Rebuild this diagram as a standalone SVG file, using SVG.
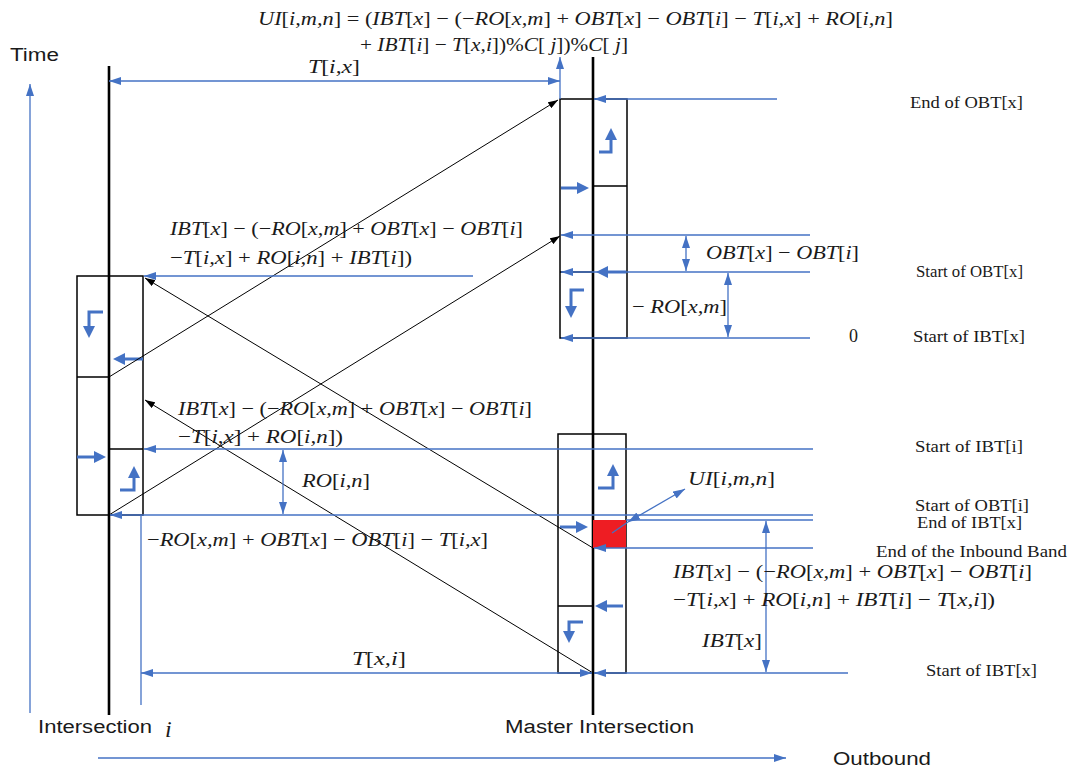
<svg xmlns="http://www.w3.org/2000/svg" width="1069" height="769" viewBox="0 0 1069 769">
<defs>
<style>
.bl{stroke:#4472C4;stroke-width:1.3;fill:none}
.bt{stroke:#4472C4;stroke-width:3;fill:none;stroke-linejoin:miter}
.k{stroke:#000;stroke-width:1;fill:none}
.ax{stroke:#000;stroke-width:2.6;fill:none}
.bx{stroke:#000;stroke-width:1.5;fill:none}
.m{font-family:"Liberation Serif",serif;font-style:italic;font-size:19px;fill:#1a1a1a}
.r{font-style:normal}
.t{font-family:"Liberation Serif",serif;font-size:16px;fill:#1a1a1a}
.a{font-family:"Liberation Sans",Arial,sans-serif;font-size:18px;fill:#1a1a1a}
</style>
<marker id="ab" viewBox="0 0 12 8" refX="12" refY="4" markerWidth="12" markerHeight="8" markerUnits="userSpaceOnUse" orient="auto-start-reverse"><path d="M0,0 L12,4 L0,8 z" fill="#4472C4"/></marker>
<marker id="abt" viewBox="0 0 12 12" refX="3" refY="6" markerWidth="12" markerHeight="12" markerUnits="userSpaceOnUse" orient="auto"><path d="M0,0 L12,6 L0,12 z" fill="#4472C4"/></marker>
<marker id="ak" viewBox="0 0 10 7" refX="10" refY="3.5" markerWidth="10" markerHeight="7" markerUnits="userSpaceOnUse" orient="auto"><path d="M0,0 L10,3.5 L0,7 z" fill="#000"/></marker>
</defs>
<rect width="1069" height="769" fill="#fff"/>

<g id="axes">
<path class="bl" d="M30,713 V84" marker-end="url(#ab)"/>
<path class="bl" d="M98,758 H786" marker-end="url(#ab)"/>
<text class="a" x="10" y="61" textLength="49" lengthAdjust="spacingAndGlyphs">Time</text>
<text class="a" x="833" y="765" textLength="98" lengthAdjust="spacingAndGlyphs">Outbound</text>
</g>

<g id="intersection-i">
<path class="ax" d="M109,66 V715"/>
<rect class="bx" x="77" y="276" width="66" height="239"/>
<path class="bx" d="M77,377 H109 M109,449 H143"/>
<path class="bt" d="M103,312 H89 V329" marker-end="url(#abt)"/>
<path class="bt" d="M120,490 H134 V475" marker-end="url(#abt)"/>
<path class="bt" d="M143,359 H122" marker-end="url(#abt)"/>
<path class="bt" d="M77,457 H97" marker-end="url(#abt)"/>
<text class="a" x="38" y="733" textLength="114" lengthAdjust="spacingAndGlyphs">Intersection</text>
<text class="m" x="165" y="737" style="font-size:24px">i</text>
</g>

<g id="master-intersection">
<path class="ax" d="M593,57 V715"/>
<rect class="bx" x="560" y="99" width="67" height="239"/>
<path class="bx" d="M593,186 H627 M560,272 H593"/>
<rect class="bx" x="558" y="434" width="68" height="239"/>
<path class="bx" d="M558,606 H593"/>
<rect x="593" y="520" width="33" height="28" fill="#EE1D23"/>
<path class="bt" d="M599,152 H611 V137" marker-end="url(#abt)"/>
<path class="bt" d="M561,188 H580" marker-end="url(#abt)"/>
<path class="bt" d="M626,272 H605" marker-end="url(#abt)"/>
<path class="bt" d="M584,290 H571 V309" marker-end="url(#abt)"/>
<path class="bt" d="M598,488 H613 V473" marker-end="url(#abt)"/>
<path class="bt" d="M560,527 H579" marker-end="url(#abt)"/>
<path class="bt" d="M623,606 H604" marker-end="url(#abt)"/>
<path class="bt" d="M583,622 H569 V634" marker-end="url(#abt)"/>
<text class="a" x="505" y="733" textLength="189" lengthAdjust="spacingAndGlyphs">Master Intersection</text>
</g>

<g id="connectors">
<path class="k" d="M109,377 L558,100" marker-end="url(#ak)"/>
<path class="k" d="M109,515 L560,236" marker-end="url(#ak)"/>
<path class="k" d="M593,548 L145,278" marker-end="url(#ak)"/>
<path class="k" d="M593,673 L145,400" marker-end="url(#ak)"/>

<path class="bl" d="M109,81 H560" marker-start="url(#ab)" marker-end="url(#ab)"/>
<path class="bl" d="M560,99 V57" marker-end="url(#ab)"/>
<path class="bl" d="M777,99 H594" marker-end="url(#ab)"/>
<path class="bl" d="M810,235 H561" marker-end="url(#ab)"/>
<path class="bl" d="M810,272 H561" marker-end="url(#ab)"/>
<path class="bl" d="M810,338 H561" marker-end="url(#ab)"/>
<path class="bl" d="M473,276 H144" marker-end="url(#ab)"/>
<path class="bl" d="M813,449 H144" marker-end="url(#ab)"/>
<path class="bl" d="M813,515 H110" marker-end="url(#ab)"/>
<path class="bl" d="M626,520 H813"/>
<path class="bl" d="M813,548 H594" marker-end="url(#ab)"/>
<path class="bl" d="M848,673 H594" marker-end="url(#ab)"/>
<path class="bl" d="M141,673 H592" marker-start="url(#ab)" marker-end="url(#ab)"/>
<path class="bl" d="M141,515 V705"/>
<path class="bl" d="M283,450 V514" marker-start="url(#ab)" marker-end="url(#ab)"/>
<path class="bl" d="M686,236 V271" marker-start="url(#ab)" marker-end="url(#ab)"/>
<path class="bl" d="M728,273 V337" marker-start="url(#ab)" marker-end="url(#ab)"/>
<path class="bl" d="M766,521 V672" marker-start="url(#ab)" marker-end="url(#ab)"/>
<path class="bl" d="M612,533 L628,522"/>
<path class="bl" d="M628,522 L685,489" marker-start="url(#ab)" marker-end="url(#ab)"/>
</g>

<g id="labels">
<text class="m" x="258" y="25" textLength="635" lengthAdjust="spacingAndGlyphs">UI<tspan class="r">[</tspan>i,m,n<tspan class="r">] = (</tspan>IBT<tspan class="r">[</tspan>x<tspan class="r">] − (−</tspan>RO<tspan class="r">[</tspan>x,m<tspan class="r">] + </tspan>OBT<tspan class="r">[</tspan>x<tspan class="r">] − </tspan>OBT<tspan class="r">[</tspan>i<tspan class="r">] − </tspan>T<tspan class="r">[</tspan>i,x<tspan class="r">] + </tspan>RO<tspan class="r">[</tspan>i,n<tspan class="r">]</tspan></text>
<text class="m" x="360" y="51" textLength="268" lengthAdjust="spacingAndGlyphs"><tspan class="r">+ </tspan>IBT<tspan class="r">[</tspan>i<tspan class="r">] − </tspan>T<tspan class="r">[</tspan>x,i<tspan class="r">])%</tspan>C<tspan class="r">[ </tspan>j<tspan class="r">])%</tspan>C<tspan class="r">[ </tspan>j<tspan class="r">]</tspan></text>
<text class="m" x="308" y="73" textLength="52" lengthAdjust="spacingAndGlyphs">T<tspan class="r">[</tspan>i,x<tspan class="r">]</tspan></text>

<text class="m" x="170" y="235" textLength="353" lengthAdjust="spacingAndGlyphs">IBT<tspan class="r">[</tspan>x<tspan class="r">] − (−</tspan>RO<tspan class="r">[</tspan>x,m<tspan class="r">] + </tspan>OBT<tspan class="r">[</tspan>x<tspan class="r">] − </tspan>OBT<tspan class="r">[</tspan>i<tspan class="r">]</tspan></text>
<text class="m" x="170" y="264" textLength="242" lengthAdjust="spacingAndGlyphs"><tspan class="r">−</tspan>T<tspan class="r">[</tspan>i,x<tspan class="r">] + </tspan>RO<tspan class="r">[</tspan>i,n<tspan class="r">] + </tspan>IBT<tspan class="r">[</tspan>i<tspan class="r">])</tspan></text>

<text class="m" x="178" y="415" textLength="354" lengthAdjust="spacingAndGlyphs">IBT<tspan class="r">[</tspan>x<tspan class="r">] − (−</tspan>RO<tspan class="r">[</tspan>x,m<tspan class="r">] + </tspan>OBT<tspan class="r">[</tspan>x<tspan class="r">] − </tspan>OBT<tspan class="r">[</tspan>i<tspan class="r">]</tspan></text>
<text class="m" x="178" y="443" textLength="165" lengthAdjust="spacingAndGlyphs"><tspan class="r">−</tspan>T<tspan class="r">[</tspan>i,x<tspan class="r">] + </tspan>RO<tspan class="r">[</tspan>i,n<tspan class="r">])</tspan></text>
<text class="m" x="302" y="487" textLength="68" lengthAdjust="spacingAndGlyphs">RO<tspan class="r">[</tspan>i,n<tspan class="r">]</tspan></text>
<text class="m" x="147" y="546" textLength="341" lengthAdjust="spacingAndGlyphs"><tspan class="r">−</tspan>RO<tspan class="r">[</tspan>x,m<tspan class="r">] + </tspan>OBT<tspan class="r">[</tspan>x<tspan class="r">] − </tspan>OBT<tspan class="r">[</tspan>i<tspan class="r">] − </tspan>T<tspan class="r">[</tspan>i,x<tspan class="r">]</tspan></text>
<text class="m" x="352" y="665" textLength="54" lengthAdjust="spacingAndGlyphs">T<tspan class="r">[</tspan>x,i<tspan class="r">]</tspan></text>

<text class="m" x="706" y="259" textLength="153" lengthAdjust="spacingAndGlyphs">OBT<tspan class="r">[</tspan>x<tspan class="r">] − </tspan>OBT<tspan class="r">[</tspan>i<tspan class="r">]</tspan></text>
<text class="m" x="632" y="313" textLength="95" lengthAdjust="spacingAndGlyphs"><tspan class="r">− </tspan>RO<tspan class="r">[</tspan>x,m<tspan class="r">]</tspan></text>
<text class="t" x="849" y="342" style="font-size:18px">0</text>
<text class="m" x="688" y="485" textLength="87" lengthAdjust="spacingAndGlyphs">UI<tspan class="r">[</tspan>i,m,n<tspan class="r">]</tspan></text>
<text class="m" x="673" y="578" textLength="359" lengthAdjust="spacingAndGlyphs">IBT<tspan class="r">[</tspan>x<tspan class="r">] − (−</tspan>RO<tspan class="r">[</tspan>x,m<tspan class="r">] + </tspan>OBT<tspan class="r">[</tspan>x<tspan class="r">] − </tspan>OBT<tspan class="r">[</tspan>i<tspan class="r">]</tspan></text>
<text class="m" x="673" y="606" textLength="322" lengthAdjust="spacingAndGlyphs"><tspan class="r">−</tspan>T<tspan class="r">[</tspan>i,x<tspan class="r">] + </tspan>RO<tspan class="r">[</tspan>i,n<tspan class="r">] + </tspan>IBT<tspan class="r">[</tspan>i<tspan class="r">] − </tspan>T<tspan class="r">[</tspan>x,i<tspan class="r">])</tspan></text>
<text class="m" x="702" y="647" textLength="60" lengthAdjust="spacingAndGlyphs">IBT<tspan class="r">[</tspan>x<tspan class="r">]</tspan></text>

<text class="t" x="910" y="108" textLength="113" lengthAdjust="spacingAndGlyphs">End of OBT[x]</text>
<text class="t" x="916" y="277" textLength="107" lengthAdjust="spacingAndGlyphs">Start of OBT[x]</text>
<text class="t" x="913" y="342" textLength="112" lengthAdjust="spacingAndGlyphs">Start of IBT[x]</text>
<text class="t" x="915" y="452" textLength="108" lengthAdjust="spacingAndGlyphs">Start of IBT[i]</text>
<text class="t" x="915" y="511" textLength="114" lengthAdjust="spacingAndGlyphs">Start of OBT[i]</text>
<text class="t" x="917" y="528" textLength="105" lengthAdjust="spacingAndGlyphs">End of IBT[x]</text>
<text class="t" x="876" y="557" textLength="191" lengthAdjust="spacingAndGlyphs">End of the Inbound Band</text>
<text class="t" x="926" y="676" textLength="111" lengthAdjust="spacingAndGlyphs">Start of IBT[x]</text>
</g>
</svg>
